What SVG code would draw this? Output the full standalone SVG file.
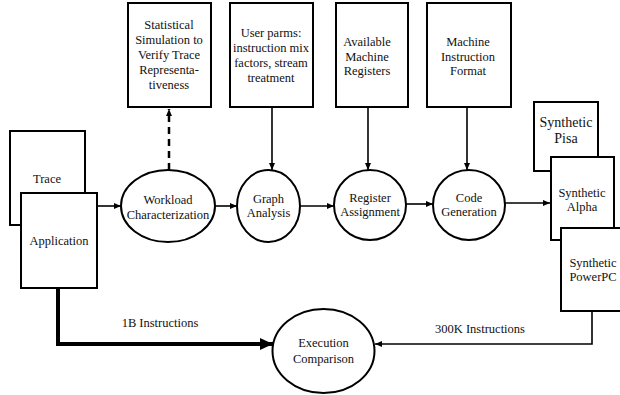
<svg xmlns="http://www.w3.org/2000/svg" width="620" height="395" viewBox="0 0 620 395" font-family="'Liberation Serif', 'Times New Roman', serif">
<style>
.box{fill:#fff;stroke:#000;stroke-width:2}
.node{fill:#fff;stroke:#000;stroke-width:2}
.t{font-family:'Liberation Serif','Times New Roman',serif;font-size:12.5px;fill:#111;text-anchor:middle}
.big{font-size:14px}
.c{fill:none;stroke:#000;stroke-width:1.6}
</style>
<defs>
<marker id="ah" markerWidth="8" markerHeight="8" refX="7" refY="4" orient="auto" markerUnits="userSpaceOnUse">
<path d="M0,1 L7,4 L0,7 Z" fill="#000"/>
</marker>
<marker id="ahBig" markerWidth="14" markerHeight="14" refX="13" refY="6" orient="auto" markerUnits="userSpaceOnUse">
<path d="M0,0 L13,6 L0,12 Z" fill="#000"/>
</marker>
</defs>

<g id="trace"><rect class="box" x="10" y="131" width="75" height="94"/><text class="t" x="47" y="183">Trace</text></g>
<g id="application"><rect class="box" x="21" y="193" width="76" height="95"/><text class="t" x="59" y="245">Application</text></g>

<g id="stat"><rect class="box" x="128" y="3" width="83" height="104"/>
<text class="t" x="169" y="29">Statistical</text><text class="t" x="169" y="44">Simulation to</text><text class="t" x="169" y="59">Verify Trace</text><text class="t" x="169" y="74">Representa-</text><text class="t" x="169" y="89">tiveness</text></g>

<g id="userparms"><rect class="box" x="230" y="3" width="83" height="104"/>
<text class="t" x="271" y="37">User parms:</text><text class="t" x="271" y="52">instruction mix</text><text class="t" x="271" y="67">factors, stream</text><text class="t" x="271" y="82">treatment</text></g>

<g id="registers"><rect class="box" x="336" y="3" width="72" height="104"/>
<text class="t" x="367" y="46">Available</text><text class="t" x="367" y="60.5">Machine</text><text class="t" x="367" y="75">Registers</text></g>

<g id="format"><rect class="box" x="427" y="3" width="84" height="104"/>
<text class="t" x="468" y="46">Machine</text><text class="t" x="468" y="60.5">Instruction</text><text class="t" x="468" y="75">Format</text></g>

<g id="workload"><ellipse class="node" cx="168" cy="206" rx="47" ry="36"/>
<text class="t" x="168" y="204">Workload</text><text class="t" x="168" y="219">Characterization</text></g>

<g id="graph"><ellipse class="node" cx="268.5" cy="206" rx="31.5" ry="36"/>
<text class="t" x="268.5" y="203">Graph</text><text class="t" x="268.5" y="217">Analysis</text></g>

<g id="regassign"><ellipse class="node" cx="370" cy="205" rx="36" ry="35"/>
<text class="t" x="370" y="202">Register</text><text class="t" x="370" y="216">Assignment</text></g>

<g id="codegen"><ellipse class="node" cx="469" cy="205" rx="36" ry="35"/>
<text class="t" x="469" y="202">Code</text><text class="t" x="469" y="216">Generation</text></g>

<g id="pisa"><rect class="box" x="534" y="102" width="64" height="69"/>
<text class="t big" x="566" y="127">Synthetic</text><text class="t big" x="566" y="143">Pisa</text></g>
<g id="alpha"><rect class="box" x="551" y="157" width="63" height="83"/>
<text class="t" x="582" y="197">Synthetic</text><text class="t" x="582" y="211">Alpha</text></g>
<g id="powerpc"><rect class="box" x="561" y="228" width="64" height="83"/>
<text class="t" x="593" y="267">Synthetic</text><text class="t" x="593" y="281">PowerPC</text></g>

<g id="exec"><ellipse class="node" cx="323.5" cy="351" rx="51" ry="42"/>
<text class="t" x="323.5" y="347">Execution</text><text class="t" x="323.5" y="363">Comparison</text></g>

<g id="connectors">
<line class="c" x1="97" y1="206" x2="121" y2="206" marker-end="url(#ah)"/>
<line class="c" x1="215" y1="206" x2="237" y2="206" marker-end="url(#ah)"/>
<line class="c" x1="300" y1="206" x2="334" y2="206" marker-end="url(#ah)"/>
<line class="c" x1="406" y1="204" x2="433" y2="204" marker-end="url(#ah)"/>
<line class="c" x1="505" y1="203" x2="550" y2="203" marker-end="url(#ah)"/>
<line x1="169" y1="170" x2="169" y2="109" stroke="#000" stroke-width="2.5" stroke-dasharray="7,5" marker-end="url(#ah)"/>
<line class="c" x1="272" y1="107" x2="272" y2="170" marker-end="url(#ah)"/>
<line class="c" x1="368" y1="107" x2="368" y2="170" marker-end="url(#ah)"/>
<line class="c" x1="467" y1="107" x2="467" y2="170" marker-end="url(#ah)"/>
<polyline points="58,288 58,344 273,344" fill="none" stroke="#000" stroke-width="4" marker-end="url(#ahBig)"/>
<polyline class="c" points="592,311 592,344 375,344" marker-end="url(#ah)"/>
<text class="t" x="160" y="327">1B Instructions</text>
<text class="t" x="480" y="333">300K Instructions</text>
</g>
</svg>
